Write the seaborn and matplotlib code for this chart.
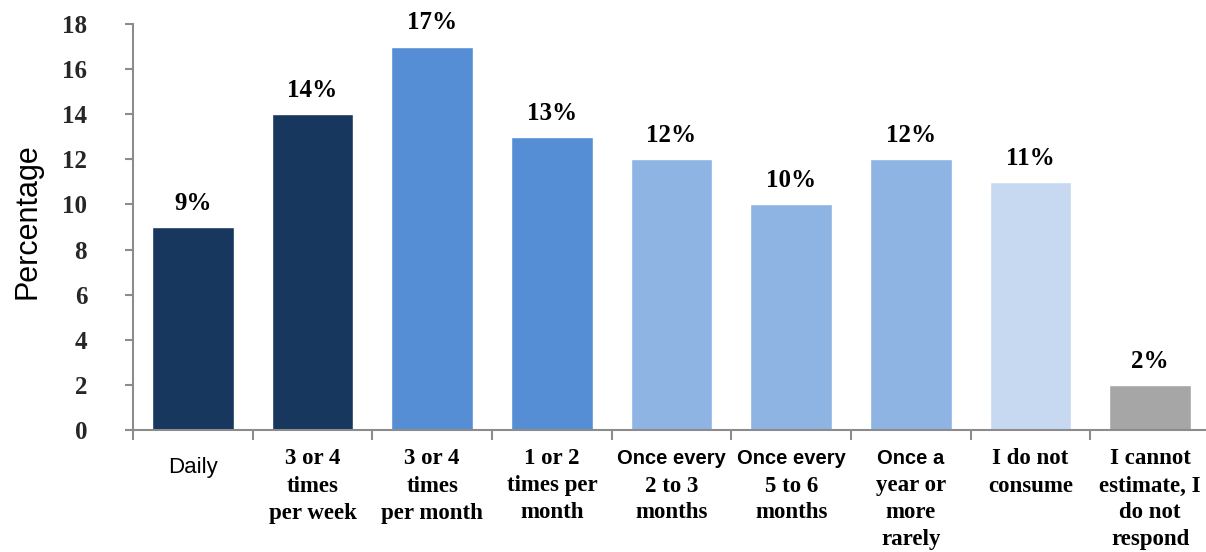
import matplotlib
matplotlib.use("Agg")
import matplotlib.pyplot as plt
import seaborn as sns
import pandas as pd

# Consumption frequency survey data
categories = [
    "Daily",
    "3 or 4\ntimes\nper week",
    "3 or 4\ntimes\nper month",
    "1 or 2\ntimes per\nmonth",
    "Once every\n2 to 3\nmonths",
    "Once every\n5 to 6\nmonths",
    "Once a\nyear or\nmore\nrarely",
    "I do not\nconsume",
    "I cannot\nestimate, I\ndo not\nrespond",
]
values = [9, 14, 17, 13, 12, 10, 12, 11, 2]
value_labels = ["9%", "14%", "17%", "13%", "12%", "10%", "12%", "11%", "2%"]
bar_colors = ["#17375E", "#17375E", "#558ED5", "#558ED5", "#8EB4E3",
              "#8EB4E3", "#8EB4E3", "#C6D9F1", "#A6A6A6"]
y_ticks = [0, 2, 4, 6, 8, 10, 12, 14, 16, 18]

SERIF = "Liberation Serif"
SANS = "Liberation Sans"

sns.set_style("white")
plt.rcParams["font.family"] = [SANS, "DejaVu Sans"]

df = pd.DataFrame({"category": categories, "value": values})

fig = plt.figure(figsize=(12.06, 5.52), dpi=100)
ax = fig.add_axes([133 / 1206, 122 / 552, 1077 / 1206, 406 / 552])

sns.barplot(data=df, x="category", y="value", hue="category",
            palette=dict(zip(categories, bar_colors)), dodge=False,
            width=0.685, legend=False, saturation=1.0, ax=ax)

ax.set_xlim(-0.5, len(categories) - 0.5)
ax.set_ylim(0, 18)

# value labels above bars
for i, (v, lab) in enumerate(zip(values, value_labels)):
    ax.annotate(lab, (i, v), xytext=(0, 17), textcoords="offset points",
                ha="center", va="center", fontsize=18, fontweight="bold",
                family=SERIF, color="black")

# spines
for side in ("top", "right"):
    ax.spines[side].set_visible(False)
for side in ("left", "bottom"):
    ax.spines[side].set_color("#8C8C8C")
    ax.spines[side].set_linewidth(1.5)

# y axis ticks
ax.set_yticks(y_ticks)
ax.set_yticklabels([str(t) for t in y_ticks], family=SERIF,
                   fontweight="bold", fontsize=18)
ax.tick_params(axis="y", direction="out", length=6, width=1.5,
               color="#8C8C8C", pad=27, left=True)

# x axis: ticks at category boundaries, labels drawn line by line
ax.set_xticks([i - 0.5 for i in range(len(categories) + 1)])
ax.set_xticklabels([])
ax.tick_params(axis="x", direction="out", length=7, width=1.5,
               color="#8C8C8C", bottom=True)
ax.set_xlabel("")

xform = ax.get_xaxis_transform()
line_step = 27 / 406
for i, cat in enumerate(categories):
    for j, line in enumerate(cat.split("\n")):
        if line == "Daily":
            fam, wt, fs, y = SANS, "normal", 16, -38 / 406
        elif line.startswith("Once"):
            fam, wt, fs, y = SANS, "bold", 14.5, -29 / 406
        else:
            fam, wt, fs, y = SERIF, "bold", 16.5, -29 / 406 - j * line_step
        ax.text(i, y, line, transform=xform, ha="center", va="center",
                family=fam, fontweight=wt, fontsize=fs, color="black",
                clip_on=False)

ax.set_ylabel("Percentage", family=SANS, fontsize=22, color="black")
ax.yaxis.set_label_coords(-0.084, 0.515)

fig.savefig("out.png", dpi=100)
